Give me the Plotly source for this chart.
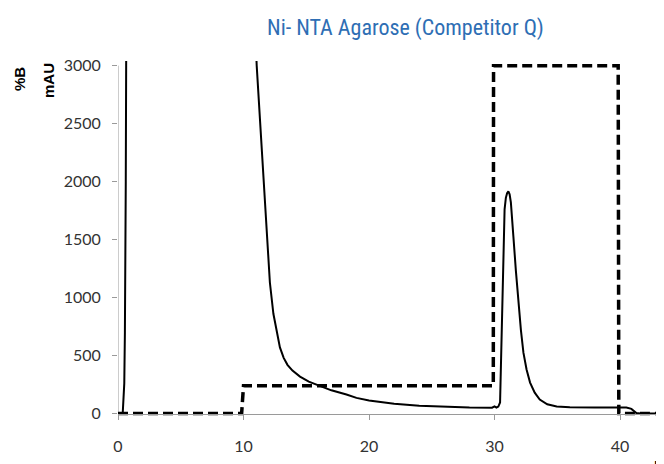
import plotly.graph_objects as go

# UV absorbance trace (mAU) vs time (min)
uv_time = [0, 0.3, 0.38, 0.45, 0.5, 0.55, 0.58, 0.62, 0.65, 0.72, 10.7, 10.9, 11.05, 11.3, 11.6,
           11.85, 12.1, 12.38, 12.65, 12.9, 13.2, 13.5, 13.9, 14.5, 15.2, 16.1, 17.0, 18.2, 19.0,
           20, 21, 22, 24, 26, 28, 29.8, 30.0, 30.15, 30.3, 30.44, 30.56, 30.7, 30.8, 30.9,
           31.0, 31.1, 31.2, 31.3, 31.4, 31.5, 31.7, 31.9, 32.1, 32.3, 32.55, 32.83, 33.2,
           33.6, 34.2, 34.95, 36, 38, 40, 40.5, 40.9, 41.3, 41.6, 43.5]
uv_mau = [0, 0, 10, 120, 260, 700, 1130, 2000, 3000, 4500, 4500, 3400, 3000, 2560, 1990,
          1558, 1130, 860, 690, 570, 480, 420, 370, 318, 275, 235, 200, 164, 135,
          112, 97, 85, 68, 58, 52, 50, 62, 52, 60, 95, 666, 1528, 1760, 1860,
          1900, 1915, 1890, 1820, 1700, 1528, 1230, 955, 720, 525, 380, 267, 180,
          120, 80, 60, 55, 52, 50, 52, 40, 5, 0, 0]

# Gradient %B trace, drawn on the mAU scale
grad_time = [0, 9.85, 10.0, 29.9, 29.92, 39.85, 39.9, 43.5]
grad_level = [0, 0, 240, 240, 3000, 3000, 0, 0]

x_ticks = [0, 10, 20, 30, 40]
y_ticks = [0, 500, 1000, 1500, 2000, 2500, 3000]

title_text = "Ni- NTA Agarose (Competitor Q)"

fig = go.Figure()
fig.add_trace(go.Scatter(x=uv_time, y=uv_mau, mode="lines",
                         line=dict(color="black", width=2), showlegend=False))
fig.add_trace(go.Scatter(x=grad_time, y=grad_level, mode="lines",
                         line=dict(color="black", width=3.5, dash="10px,5px"), showlegend=False))

axis_gray = "#9a9a9a"
tick_font = dict(family="Lato, Liberation Sans, sans-serif", size=16, color="#333333")

y_lo, y_hi = -30, 3040
fig.update_layout(
    width=656, height=456,
    margin=dict(l=110, r=0, t=53, b=47),
    paper_bgcolor="white", plot_bgcolor="white",
    xaxis=dict(range=[0, 43.5], tickvals=x_ticks, showgrid=False, zeroline=False,
               showline=True, linecolor=axis_gray, linewidth=1,
               ticks="outside", ticklen=5, tickcolor=axis_gray,
               anchor="free", position=(0 - y_lo) / (y_hi - y_lo),
               tickfont=tick_font, ticklabelstandoff=13),
    yaxis=dict(range=[y_lo, y_hi], tickvals=y_ticks, showgrid=False, zeroline=False,
               showline=False, ticks="outside", ticklen=5, tickcolor=axis_gray,
               tickfont=tick_font, ticklabelstandoff=8),
    shapes=[dict(type="line", xref="x", yref="y", x0=0, x1=0, y0=0, y1=3000,
                 line=dict(color=axis_gray, width=1), layer="below")],
    annotations=[
        dict(text=title_text, xref="paper", yref="paper", x=(405 - 118) / 546, y=(417 - 28) / 356,
             xanchor="center", yanchor="middle", showarrow=False,
             font=dict(family="Roboto Condensed, Liberation Sans Narrow, Arial Narrow, sans-serif",
                       size=22, color="#2E6EB4")),
        dict(text="<b>%B</b>", xref="paper", yref="paper", x=(19 - 118) / 546, y=(417 - 79) / 356,
             xanchor="center", yanchor="middle", textangle=-90, showarrow=False,
             font=dict(family="Liberation Sans, Arial, sans-serif", size=15, color="black")),
        dict(text="<b>mAU</b>", xref="paper", yref="paper", x=(48 - 118) / 546, y=(417 - 81) / 356,
             xanchor="center", yanchor="middle", textangle=-90, showarrow=False,
             font=dict(family="Liberation Sans, Arial, sans-serif", size=15, color="black")),
        dict(text="<b>min</b>", xref="paper", yref="paper", x=(652 - 118) / 546, y=-(463 - 417) / 356,
             xanchor="left", yanchor="middle", showarrow=False,
             font=dict(family="Liberation Sans, Arial, sans-serif", size=15, color="black")),
    ],
)

fig.write_html("out.html")
